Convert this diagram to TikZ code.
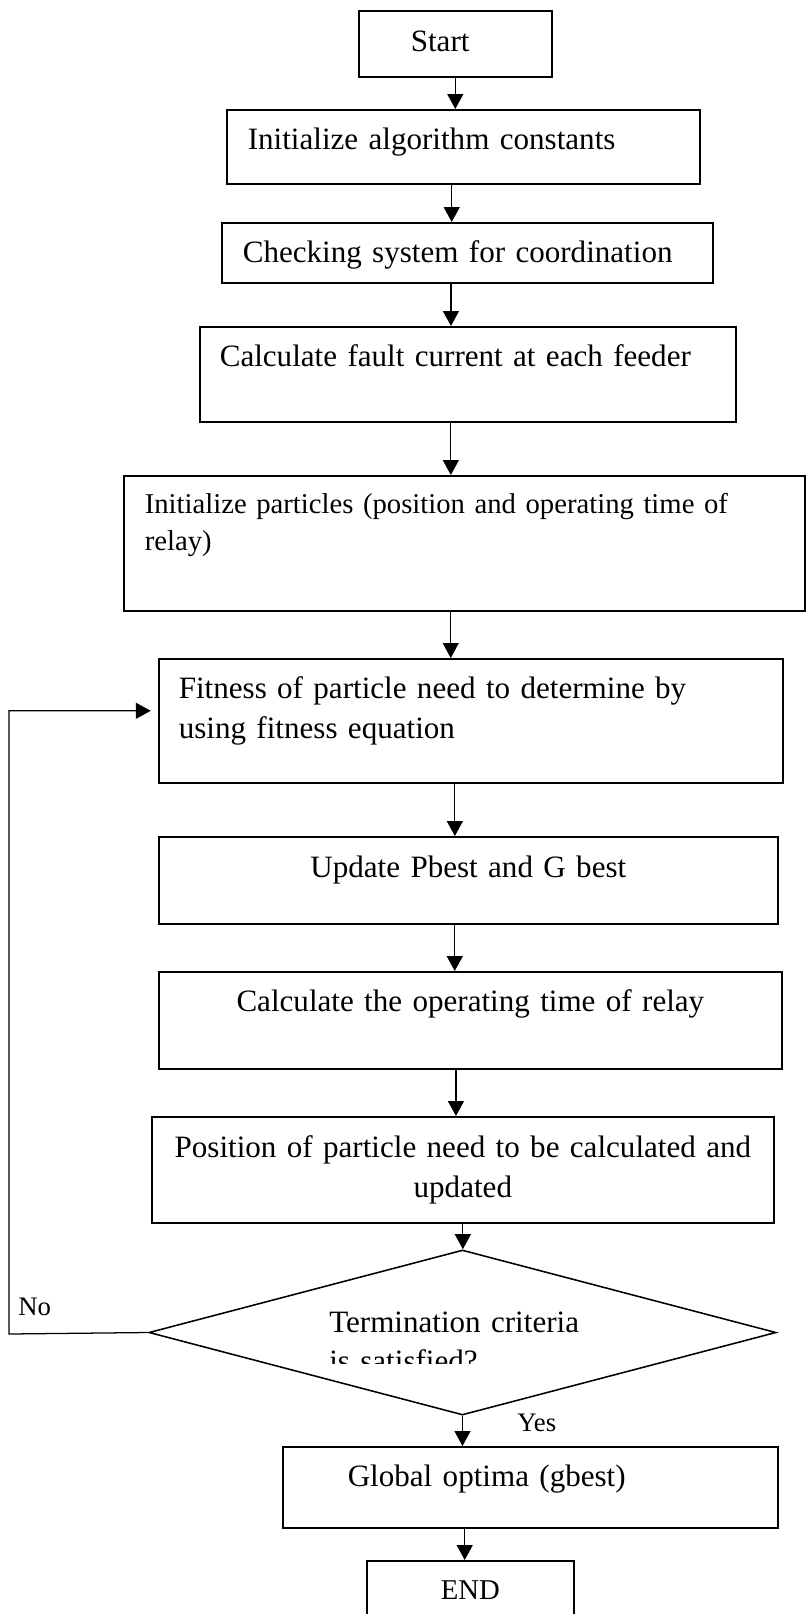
\documentclass[tikz,border=0pt]{standalone}
\usepackage{fontspec}
\setmainfont{Liberation Serif}
\usepackage{tikz}
\usetikzlibrary{arrows.meta, shapes.geometric}

\newcommand{\boxfont}{\fontsize{22.1}{28}\selectfont}
\newcommand{\notefont}{\fontsize{20.4}{26.3}\selectfont}
\newcommand{\lblfont}{\fontsize{19}{23}\selectfont}

\begin{document}
\begin{tikzpicture}[
    x=0.025cm, y=-0.025cm,
    font=\boxfont,
    >={Triangle[length=3.75mm,width=4mm]},
    base/.style={
        rectangle,
        draw,
        line width=1.1pt,
        anchor=north west,
        inner ysep=0pt
    },
    leftbox/.style={
        base,
        align=left
    },
    midbox/.style={
        base,
        align=center
    },
    decision/.style={
        diamond,
        draw,
        line width=1.1pt,
        aspect=3.8,
        inner sep=0pt,
        minimum width=15.675cm,
        minimum height=4.125cm
    },
    flow/.style={
        ->,
        line width=0.9pt,
        draw=black
    },
    lbl/.style={
        font=\lblfont,
        anchor=base west,
        inner sep=0pt
    }
]

\useasboundingbox (0,0) rectangle (806,1614);
\clip (0,0) rectangle (806,1614);

% --- Process boxes -----------------------------------------------------------

\node[leftbox, inner xsep=1.3cm, text width=2.225cm,
      text height=1.02cm, text depth=0.63cm] (start) at (358,10) {Start};

\node[leftbox, inner xsep=0.525cm, text width=10.775cm,
      text height=1.0cm, text depth=0.85cm] (init) at (226,109)
      {Initialize algorithm constants};

\node[leftbox, inner xsep=0.525cm, text width=11.225cm,
      text height=1.0cm, text depth=0.5cm] (check) at (221,222)
      {Checking system for coordination};

\node[leftbox, inner xsep=0.5cm, text width=12.4cm,
      text height=1.0cm, text depth=1.375cm] (fault) at (199,326)
      {Calculate fault current at each feeder};

\node[leftbox, font=\notefont, inner xsep=0.525cm, text width=15.975cm,
      text height=0.95cm, text depth=2.425cm] (particles) at (123,475)
      {Initialize particles (position and operating time of\\relay)};

\node[leftbox, inner xsep=0.5cm, text width=14.6cm,
      text height=1.0cm, text depth=2.1cm] (fitness) at (158,658)
      {Fitness of particle need to determine by\\using fitness equation};

\node[midbox, inner xsep=0.5cm, text width=14.475cm,
      text height=1.025cm, text depth=1.15cm] (update) at (158,836)
      {Update Pbest and G best};

\node[midbox, inner xsep=0.5cm, text width=14.575cm,
      text height=1.0cm, text depth=1.425cm] (optime) at (158,971)
      {Calculate the operating time of relay};

\node[midbox, inner xsep=0.3cm, text width=14.95cm,
      text height=1.025cm, text depth=1.625cm] (position) at (151,1116)
      {Position of particle need to be calculated and\\updated};

% --- Decision ----------------------------------------------------------------

\node[decision] (stop) at (462.5,1332.5) {};

\begin{scope}
    \clip (300,1280) rectangle (640,1363);
    \node[align=left, anchor=base west, inner sep=0pt, text width=8cm]
        (crit) at (329,1332) {Termination criteria\\is satisfied?};
\end{scope}

% --- End of run --------------------------------------------------------------

\node[leftbox, inner xsep=1.625cm, text width=9.125cm,
      text height=1.0cm, text depth=1.025cm] (global) at (282,1446)
      {Global optima (gbest)};

\node[midbox, font=\notefont, inner xsep=0.25cm, text width=4.675cm,
      text height=0.975cm, text depth=0.75cm] (finish) at (366,1560) {END};

\node[lbl] (yes) at (517,1431) {Yes};
\node[lbl] (no) at (18,1315) {No};

% --- Arrows ------------------------------------------------------------------

\draw[flow] (start.south) -- (start.south |- init.north);
\draw[flow] ([xshift=-0.29cm]init.south) -- ([xshift=-0.29cm]init.south |- check.north);
\draw[flow] ([xshift=-0.41cm]check.south) -- ([xshift=-0.41cm]check.south |- fault.north);
\draw[flow] ([xshift=-0.425cm]fault.south) -- ([xshift=-0.425cm]fault.south |- particles.north);
\draw[flow] ([xshift=-0.34cm]particles.south) -- ([xshift=-0.34cm]particles.south |- fitness.north);
\draw[flow] ([xshift=-0.4cm]fitness.south) -- ([xshift=-0.4cm]fitness.south |- update.north);
\draw[flow] ([xshift=-0.34cm]update.south) -- ([xshift=-0.34cm]update.south |- optime.north);
\draw[flow] ([xshift=-0.36cm]optime.south) -- ([xshift=-0.36cm]optime.south |- position.north);
\draw[flow] (position.south) -- (position.south |- stop.north);

\draw[flow] (stop.south) -- (stop.south |- global.north);
\draw[flow] ([xshift=-1.64cm]global.south) -- ([xshift=-1.64cm]global.south |- finish.north);

\coordinate (turn) at (9,1334);
\draw[flow] (stop.west) -- (turn) |- ([xshift=-0.18cm,yshift=0.25cm]fitness.west);

\end{tikzpicture}
\end{document}
